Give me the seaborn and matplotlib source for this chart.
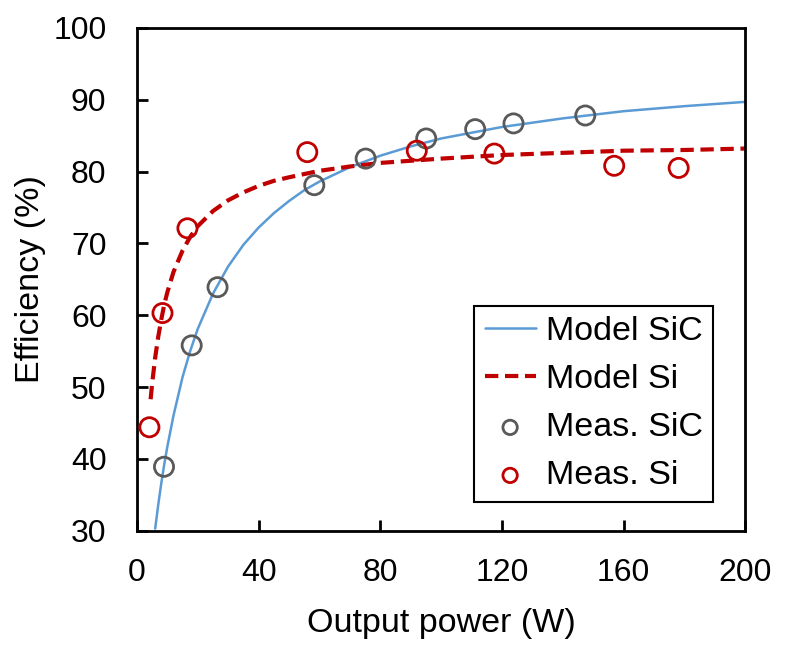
import matplotlib
matplotlib.use("Agg")
import matplotlib.pyplot as plt
import seaborn as sns

# model curves
sic_model_p = [6, 7, 8, 9, 10, 12, 15, 17.5, 20, 25, 30, 35, 40, 45, 50, 55, 60, 70, 80, 90,
               100, 120, 140, 160, 180, 200]
sic_model_eff = [30.3, 33.6, 36.6, 39.3, 41.7, 46.0, 51.4, 55.0, 58.1, 63.0, 66.8, 69.8, 72.2,
                 74.2, 75.9, 77.4, 78.6, 80.6, 82.2, 83.5, 84.6, 86.2, 87.4, 88.4, 89.1, 89.7]
si_model_p = [4.5, 5, 6, 7, 8, 9, 10, 12, 15, 17.5, 20, 25, 30, 35, 40, 45, 50, 60, 70, 80,
              100, 120, 140, 160, 180, 200]
si_model_eff = [48.3, 50.5, 54.1, 57.0, 59.4, 61.5, 63.2, 66.0, 69.0, 70.9, 72.4, 74.5, 76.0,
                77.1, 78.0, 78.7, 79.2, 80.1, 80.7, 81.2, 81.8, 82.3, 82.6, 82.9, 83.0, 83.2]

# measurements
sic_meas_p = [8.9, 18.0, 26.5, 58.3, 75.2, 95.1, 111.2, 123.8, 147.4]
sic_meas_eff = [38.9, 55.8, 63.9, 78.1, 81.8, 84.6, 85.9, 86.7, 87.8]
si_meas_p = [4.1, 8.4, 16.6, 56.0, 92.0, 117.5, 156.9, 178.1]
si_meas_eff = [44.4, 60.3, 72.1, 82.7, 82.9, 82.5, 80.8, 80.5]

blue = "#5B9BD5"
red = "#C00000"
grey = "#595959"

sns.set_style("ticks")
plt.rcParams["font.family"] = ["Liberation Sans", "DejaVu Sans"]
plt.rcParams["text.color"] = "black"
plt.rcParams["axes.labelcolor"] = "black"

fig = plt.figure(figsize=(7.87, 6.48), dpi=100)
ax = fig.add_axes([0.174, 0.181, 0.773, 0.776])

sns.lineplot(x=sic_model_p, y=sic_model_eff, color=blue, lw=1.8, label="Model SiC", ax=ax)
sns.lineplot(x=si_model_p, y=si_model_eff, color=red, lw=3.0, linestyle=(0, (3.2, 1.6)),
             label="Model Si", ax=ax)
sns.scatterplot(x=sic_meas_p, y=sic_meas_eff, color=grey, facecolor="none", edgecolor=grey,
                linewidth=2.0, s=190, label="Meas. SiC", ax=ax, zorder=3)
sns.scatterplot(x=si_meas_p, y=si_meas_eff, color=red, facecolor="none", edgecolor=red,
                linewidth=2.0, s=190, label="Meas. Si", ax=ax, zorder=3)

ax.set_xlim(0, 200)
ax.set_ylim(30, 100)
ax.set_xticks(range(0, 201, 40))
ax.set_yticks(range(30, 101, 10))
ax.tick_params(direction="in", length=8, width=2, labelsize=23, pad=9, colors="black")
ax.tick_params(axis="y", pad=22)
ax.tick_params(axis="x", pad=20)
for s in ax.spines.values():
    s.set_linewidth(2)
    s.set_color("black")

ax.set_xlabel("Output power (W)", fontsize=24.5, labelpad=14)
ax.set_ylabel("Efficiency (%)", fontsize=24.5, labelpad=5)

leg = ax.legend(loc="lower right", bbox_to_anchor=(0.947, 0.058), borderaxespad=0,
                fontsize=24.5, frameon=True, fancybox=False, framealpha=1,
                edgecolor="black", markerscale=0.75, handlelength=1.5,
                labelspacing=0.5, handletextpad=0.3, borderpad=0.3)
leg.get_frame().set_linewidth(1.5)

fig.savefig("out.png", dpi=100)
